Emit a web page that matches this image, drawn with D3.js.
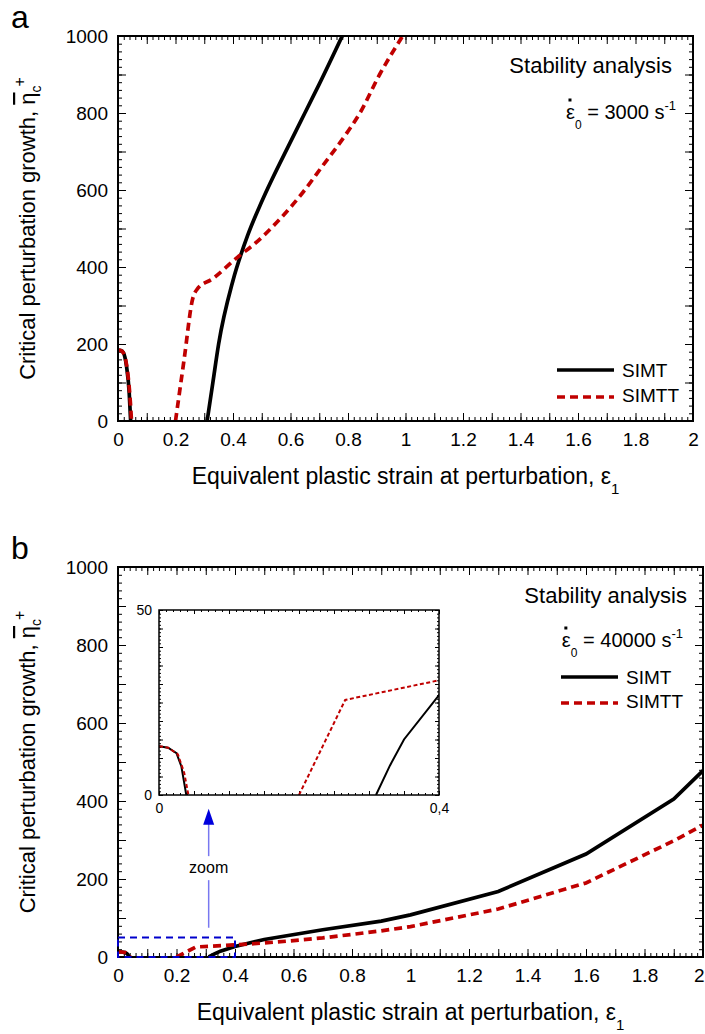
<!DOCTYPE html>
<html>
<head>
<meta charset="utf-8">
<script src="https://cdn.jsdelivr.net/npm/d3@7"></script>
<style>
body { margin: 0; background: #fff; }
svg { display: block; font-family: "Liberation Sans", Arial, sans-serif; }
</style>
</head>
<body>
<svg id="chart"></svg>
<script>
// tick labels
var xTickLabels = ["0", "0.2", "0.4", "0.6", "0.8", "1", "1.2", "1.4", "1.6", "1.8", "2"];
var yTickLabels = ["0", "200", "400", "600", "800", "1000"];
var insetXTickLabels = ["0", "0,4"];
var insetYTickLabels = ["0", "50"];
var seriesNames = ["SIMT", "SIMTT"];
var rates = ["3000", "40000"];

// panel a, 3000 s^-1  ([strain, growth], null = gap)
var simtA = [[0, 184], [0.01, 183], [0.019, 177], [0.03, 140], [0.039, 73], [0.044, 0], null,
    [0.31, 0], [0.33, 100], [0.35, 200], [0.4, 365], [0.45, 480], [0.5, 570], [0.6, 725],
    [0.65, 800], [0.7, 875], [0.78, 1000]];
var simttA = [[0, 184], [0.01, 183], [0.02, 175], [0.032, 135], [0.041, 70], [0.047, 0], null,
    [0.2, 0], [0.23, 160], [0.26, 318], [0.275, 342], [0.33, 370], [0.42, 428], [0.47, 457],
    [0.56, 522], [0.64, 591], [0.71, 661], [0.795, 747], [0.84, 798], [0.91, 900], [0.99, 1000]];

// panel b, 40000 s^-1
var simtB = [[0, 13.2], [0.013, 12.8], [0.025, 11.3], [0.032, 7.7], [0.039, 0], null,
    [0.31, 0], [0.33, 8], [0.35, 15], [0.4, 27], [0.5, 45], [0.7, 70], [0.9, 92], [1.0, 108],
    [1.3, 168], [1.6, 264], [1.9, 405], [2.0, 478]];
var simttB = [[0, 13.2], [0.013, 12.8], [0.027, 11], [0.036, 6], [0.042, 0], null,
    [0.2, 0], [0.266, 25.7], [0.4, 31], [0.5, 36], [0.6, 42], [0.7, 49], [0.8, 58], [0.9, 67],
    [1.0, 78], [1.3, 123], [1.6, 190], [1.9, 298], [2.0, 338]];

// zoomed window [x0, x1, y0, y1] and arrow (x, y from, y to, label y)
var zoomBox = [0, 0.4, 0, 50];
var zoomArrow = [0.31, 75, 380, 215];

var RED = "#c00000";
var svg = d3.select("#chart").attr("width", 705).attr("height", 1034);

function stepList(a, b, n) {
    return d3.range(0, n + 1).map(function(i) { return a + (b - a) * i / n; });
}

function addTicks(g, x, y, xMajor, xMinor, yMajor, yMinor, bigLen, smallLen) {
    var xr = x.range(), yr = y.range();
    [[xMinor, yMinor, smallLen], [xMajor, yMajor, bigLen]].forEach(function(t) {
        g.append("g").attr("transform", "translate(0," + yr[0] + ")")
            .call(d3.axisBottom(x).tickValues(t[0]).tickSize(-t[2]).tickFormat(""));
        g.append("g").attr("transform", "translate(0," + yr[1] + ")")
            .call(d3.axisTop(x).tickValues(t[0]).tickSize(-t[2]).tickFormat(""));
        g.append("g").attr("transform", "translate(" + xr[0] + ",0)")
            .call(d3.axisLeft(y).tickValues(t[1]).tickSize(-t[2]).tickFormat(""));
        g.append("g").attr("transform", "translate(" + xr[1] + ",0)")
            .call(d3.axisRight(y).tickValues(t[1]).tickSize(-t[2]).tickFormat(""));
    });
    g.selectAll(".domain").remove();
    g.selectAll(".tick line").attr("stroke", "#000").attr("stroke-width", 1);
}

function addLabels(g, x, y, xLabels, yLabels, size, padX, padY) {
    var xr = x.range(), yr = y.range();
    var num = function(s) { return +s.replace(",", "."); };
    var ax = g.append("g").attr("transform", "translate(0," + yr[0] + ")")
        .call(d3.axisBottom(x).tickValues(xLabels.map(num)).tickSize(0).tickPadding(padX)
            .tickFormat(function(d, i) { return xLabels[i]; }));
    var ay = g.append("g").attr("transform", "translate(" + xr[0] + ",0)")
        .call(d3.axisLeft(y).tickValues(yLabels.map(num)).tickSize(0).tickPadding(padY)
            .tickFormat(function(d, i) { return yLabels[i]; }));
    [ax, ay].forEach(function(a) {
        a.attr("font-size", size).attr("font-family", null);
        a.select(".domain").remove();
        a.selectAll("text").attr("fill", "#000");
    });
    // keep the last x label inside the page
    ax.selectAll(".tick").each(function(d) {
        var t = d3.select(this).select("text");
        var b = t.node().getBBox();
        var right = x(d) + b.x + b.width;
        if (right > 704) t.attr("dx", 704 - right);
    });
}

function rateText(g, xEnd, yBase, rate) {
    var t = g.append("text").attr("x", xEnd).attr("y", yBase)
        .attr("text-anchor", "end").attr("font-size", 20).attr("fill", "#000");
    t.append("tspan").text("ε");
    t.append("tspan").attr("font-size", 12).attr("dy", 10).text("0");
    t.append("tspan").attr("dy", -10).text(" = " + rate + " s");
    t.append("tspan").attr("font-size", 13).attr("dy", -9).text("-1");
    var p = t.node().getStartPositionOfChar(0);
    g.append("rect").attr("x", p.x + 2.5).attr("y", yBase - 20.5)
        .attr("width", 3).attr("height", 3).attr("fill", "#000");
}

function drawPanel(cfg) {
    var x = d3.scaleLinear().domain([0, 2]).range([cfg.left, cfg.right]);
    var y = d3.scaleLinear().domain([0, 1000]).range([cfg.bottom, cfg.top]);
    var g = svg.append("g");

    g.append("clipPath").attr("id", "clip" + cfg.letter)
        .append("rect")
        .attr("x", cfg.left).attr("y", cfg.top)
        .attr("width", cfg.right - cfg.left).attr("height", cfg.bottom - cfg.top);

    addTicks(g, x, y, stepList(0, 2, 20), stepList(0, 2, 100), stepList(0, 1000, 10), stepList(0, 1000, 50), 8, 4);
    addLabels(g, x, y, xTickLabels, yTickLabels, 19, 12, 10);

    var line = d3.line()
        .defined(function(d) { return d !== null; })
        .x(function(d) { return x(d[0]); })
        .y(function(d) { return y(d[1]); })
        .curve(cfg.curve);

    g.append("path").datum(cfg.simt)
        .attr("clip-path", "url(#clip" + cfg.letter + ")")
        .attr("fill", "none").attr("stroke", "#000").attr("stroke-width", 3.7)
        .attr("d", line);
    g.append("path").datum(cfg.simtt)
        .attr("clip-path", "url(#clip" + cfg.letter + ")")
        .attr("fill", "none").attr("stroke", RED).attr("stroke-width", 3.7)
        .attr("stroke-dasharray", "8,5")
        .attr("d", line);

    g.append("rect")
        .attr("x", cfg.left).attr("y", cfg.top)
        .attr("width", cfg.right - cfg.left).attr("height", cfg.bottom - cfg.top)
        .attr("fill", "none").attr("stroke", "#000").attr("stroke-width", 2);

    // panel letter
    g.append("text").attr("x", 11).attr("y", cfg.top - 8)
        .attr("font-size", 32).attr("fill", "#000").text(cfg.letter);

    // x title
    var xt = g.append("text")
        .attr("x", (cfg.left + cfg.right) / 2).attr("y", cfg.bottom + 63)
        .attr("text-anchor", "middle").attr("font-size", 23).attr("fill", "#000");
    xt.append("tspan").text("Equivalent plastic strain at perturbation, ε");
    xt.append("tspan").attr("font-size", 15).attr("dy", 10).text("1");

    // y title
    var yt = g.append("text")
        .attr("transform", "translate(35," + ((cfg.top + cfg.bottom) / 2) + ") rotate(-90)")
        .attr("text-anchor", "middle").attr("font-size", 22).attr("fill", "#000");
    yt.append("tspan").text("Critical perturbation growth, ");
    yt.append("tspan").style("text-decoration", "overline").text("η");
    yt.append("tspan").attr("font-size", 14).attr("dy", 6).text("c");
    yt.append("tspan").attr("font-size", 16).attr("dy", -16.5).attr("dx", -1).text("+");

    g.append("text").attr("x", cfg.textEnd).attr("y", cfg.top + cfg.titleDy)
        .attr("text-anchor", "end").attr("font-size", 22).attr("fill", "#000")
        .text("Stability analysis");
    rateText(g, cfg.rateEnd, cfg.top + cfg.rateDy, cfg.rate);

    // legend
    var lg = g.append("g");
    seriesNames.forEach(function(name, i) {
        var ly = cfg.legendY + i * cfg.legendGap;
        lg.append("line")
            .attr("x1", cfg.legendX).attr("x2", cfg.legendX + 57)
            .attr("y1", ly).attr("y2", ly)
            .attr("stroke", i === 0 ? "#000" : RED).attr("stroke-width", 3.7)
            .attr("stroke-dasharray", i === 0 ? null : "8,5");
        lg.append("text").attr("x", cfg.legendX + 65).attr("y", ly + 7 - i * 2)
            .attr("font-size", 19).attr("fill", "#000").text(name);
    });

    return { x: x, y: y, g: g };
}

drawPanel({ letter: "a", left: 118, right: 693, top: 36, bottom: 421,
    simt: simtA, simtt: simttA, curve: d3.curveMonotoneX,
    textEnd: 672, titleDy: 37, rateEnd: 676, rateDy: 83, rate: rates[0],
    legendX: 557, legendY: 370, legendGap: 27 });

var pb = drawPanel({ letter: "b", left: 118, right: 703, top: 567, bottom: 957,
    simt: simtB, simtt: simttB, curve: d3.curveLinear,
    textEnd: 687, titleDy: 36, rateEnd: 683, rateDy: 80, rate: rates[1],
    legendX: 561, legendY: 677, legendGap: 26 });

// zoom box + arrow on panel b
var bx = pb.x, by = pb.y;
pb.g.append("rect")
    .attr("x", bx(zoomBox[0])).attr("y", by(zoomBox[3]))
    .attr("width", bx(zoomBox[1]) - bx(zoomBox[0])).attr("height", by(zoomBox[2]) - by(zoomBox[3]))
    .attr("fill", "none").attr("stroke", "#0000cc").attr("stroke-width", 2)
    .attr("stroke-dasharray", "7,5");

var axX = bx(zoomArrow[0]);
var headY = by(zoomArrow[2]);
var labelY = by(zoomArrow[3]);
pb.g.append("line").attr("x1", axX).attr("x2", axX)
    .attr("y1", by(zoomArrow[1])).attr("y2", labelY + 7)
    .attr("stroke", "#7878f0").attr("stroke-width", 1.5);
pb.g.append("line").attr("x1", axX).attr("x2", axX)
    .attr("y1", labelY - 17).attr("y2", headY + 14)
    .attr("stroke", "#7878f0").attr("stroke-width", 1.5);
pb.g.append("path")
    .attr("d", "M" + axX + "," + headY + "L" + (axX - 5.5) + "," + (headY + 16) + "L" + (axX + 5.5) + "," + (headY + 16) + "Z")
    .attr("fill", "#0000dd");
pb.g.append("text").attr("x", axX).attr("y", labelY)
    .attr("text-anchor", "middle").attr("font-size", 16).attr("fill", "#000").text("zoom");

// inset
var ix = d3.scaleLinear().domain([zoomBox[0], zoomBox[1]]).range([159, 439]);
var iy = d3.scaleLinear().domain([zoomBox[2], zoomBox[3]]).range([795, 610]);
var ig = svg.append("g");
ig.append("rect").attr("x", 159).attr("y", 610).attr("width", 280).attr("height", 185).attr("fill", "#fff");
ig.append("clipPath").attr("id", "clipInset")
    .append("rect").attr("x", 159).attr("y", 610).attr("width", 280).attr("height", 185);
addTicks(ig, ix, iy, stepList(0, 0.4, 8), stepList(0, 0.4, 40), stepList(0, 50, 10), stepList(0, 50, 50), 4, 2);
addLabels(ig, ix, iy, insetXTickLabels, insetYTickLabels, 14, 8, 7);

var iline = d3.line()
    .defined(function(d) { return d !== null; })
    .x(function(d) { return ix(d[0]); })
    .y(function(d) { return iy(d[1]); });
ig.append("path").datum(simtB)
    .attr("clip-path", "url(#clipInset)")
    .attr("fill", "none").attr("stroke", "#000").attr("stroke-width", 2)
    .attr("d", iline);
ig.append("path").datum(simttB)
    .attr("clip-path", "url(#clipInset)")
    .attr("fill", "none").attr("stroke", RED).attr("stroke-width", 2)
    .attr("stroke-dasharray", "4,2.5")
    .attr("d", iline);
ig.append("rect").attr("x", 159).attr("y", 610).attr("width", 280).attr("height", 185)
    .attr("fill", "none").attr("stroke", "#000").attr("stroke-width", 1.5);
</script>
</body>
</html>
